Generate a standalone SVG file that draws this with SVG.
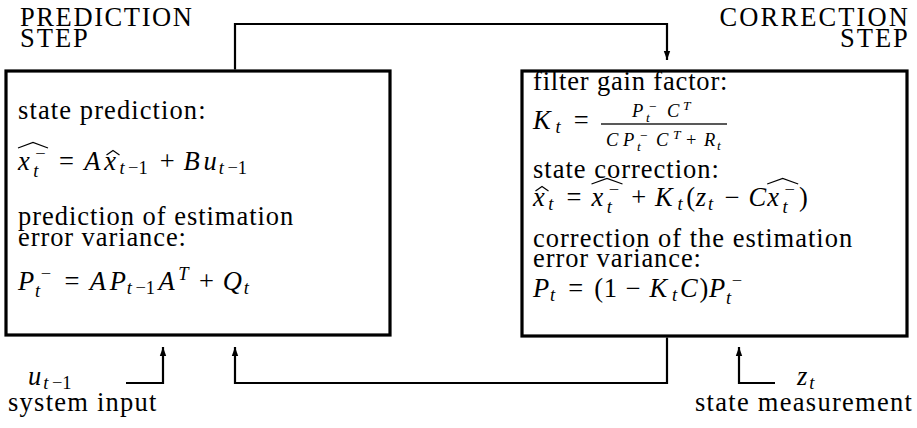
<svg xmlns="http://www.w3.org/2000/svg" width="917" height="428" viewBox="0 0 917 428">
<style>
svg text, svg tspan{font-family:'Liberation Serif','Times New Roman',serif !important}
.t{font-family:'Liberation Serif','Times New Roman',serif !important;font-size:26.5px;fill:#000}
.m{font-family:'Liberation Serif','Times New Roman',serif !important;font-size:26.5px;font-style:italic;fill:#000}
.s{font-size:18.5px;font-style:italic}
.sr{font-size:18.5px;font-style:normal}
.ss{font-size:13.5px;font-style:italic}
.ssr{font-size:13.5px;font-style:normal}
.r{font-style:normal}
.box{fill:none;stroke:#000;stroke-width:3.2}
.con{fill:none;stroke:#000;stroke-width:2.2}
.hat{fill:none;stroke:#000;stroke-width:1.2}
</style>
<defs>
<marker id="arr" markerUnits="userSpaceOnUse" markerWidth="10" markerHeight="8" refX="9" refY="4" orient="auto">
<path d="M0,0.8 L9,4 L0,7.2 z" fill="#000"/>
</marker>
</defs>
<rect width="917" height="428" fill="#fff"/>

<g id="connectors">
<path class="con" d="M235,69.5 V24 H667 V60" marker-end="url(#arr)"/>
<path class="con" d="M667,337.5 V383 H235 V347" marker-end="url(#arr)"/>
<path class="con" d="M126,383 H163 V347" marker-end="url(#arr)"/>
<path class="con" d="M775,383 H739 V347" marker-end="url(#arr)"/>
</g>

<g id="prediction-label">
<text class="t" style="font-family:'Liberation Serif',serif !important" x="20" y="26" letter-spacing="1.6">PREDICTION</text>
<text class="t" style="font-family:'Liberation Serif',serif !important" x="20" y="47" letter-spacing="2">STEP</text>
</g>

<g id="correction-label">
<text class="t" style="font-family:'Liberation Serif',serif !important" x="719.6" y="26" letter-spacing="2.1">CORRECTION</text>
<text class="t" style="font-family:'Liberation Serif',serif !important" x="840" y="47" letter-spacing="2">STEP</text>
</g>

<g id="prediction-step">
<rect class="box" x="6" y="71" width="384" height="264"/>
<text class="t" style="font-family:'Liberation Serif',serif !important" x="18" y="119" letter-spacing="1.1">state prediction:</text>
<text class="m" style="font-family:'Liberation Serif',serif !important"><tspan x="18" y="170">x</tspan><tspan class="sr" x="35.2" y="159.5">&#x2212;</tspan><tspan class="s" x="33.2" y="176.5">t</tspan><tspan class="r" x="59.1" y="170">=</tspan><tspan x="84.3" y="170">A</tspan><tspan x="104.2" y="170">x</tspan><tspan class="s" x="119.4" y="174">t</tspan><tspan class="sr" x="128.1" y="174">&#x2212;1</tspan><tspan class="r" x="159.7" y="170">+</tspan><tspan x="183.4" y="170">B</tspan><tspan x="203.5" y="170">u</tspan><tspan class="s" x="218.7" y="174">t</tspan><tspan class="sr" x="227.4" y="174">&#x2212;1</tspan></text>
<path class="hat" d="M18,148 L33,142.5 L48,148"/>
<path class="hat" d="M106.5,155 L113,150.5 L119.5,155"/>
<text class="t" style="font-family:'Liberation Serif',serif !important" x="18" y="225" letter-spacing="0.96">prediction of estimation</text>
<text class="t" style="font-family:'Liberation Serif',serif !important" x="18" y="246" letter-spacing="0.91">error variance:</text>
<text class="m" style="font-family:'Liberation Serif',serif !important"><tspan x="18" y="290">P</tspan><tspan class="sr" x="40.7" y="279.5">&#x2212;</tspan><tspan class="s" x="35" y="296.5">t</tspan><tspan class="r" x="64.6" y="290">=</tspan><tspan x="89.8" y="290">A</tspan><tspan x="109.7" y="290">P</tspan><tspan class="s" x="126.7" y="294">t</tspan><tspan class="sr" x="135.4" y="294">&#x2212;1</tspan><tspan x="158.4" y="290">A</tspan><tspan class="s" x="178.3" y="279.5">T</tspan><tspan class="r" x="199.1" y="290">+</tspan><tspan x="222.8" y="290">Q</tspan><tspan class="s" x="243.8" y="294">t</tspan></text>
</g>

<g id="correction-step">
<rect class="box" x="522" y="71" width="385" height="265"/>
<text class="t" style="font-family:'Liberation Serif',serif !important" x="533" y="90" letter-spacing="0.83">filter gain factor:</text>
<text class="m" style="font-family:'Liberation Serif',serif !important"><tspan x="533" y="129">K</tspan><tspan class="s" x="555.5" y="133">t</tspan><tspan class="r" x="573.7" y="129">=</tspan></text>
<rect x="601" y="123.35" width="126" height="1.3" fill="#000"/>
<text class="m" style="font-family:'Liberation Serif',serif !important"><tspan class="s" x="632" y="117">P</tspan><tspan class="ssr" x="649" y="111">&#x2212;</tspan><tspan class="ss" x="646" y="121.5">t</tspan><tspan class="s" x="667" y="117">C</tspan><tspan class="ss" x="683" y="110">T</tspan></text>
<text class="m" style="font-family:'Liberation Serif',serif !important"><tspan class="s" x="606" y="146">C</tspan><tspan class="s" x="623" y="146">P</tspan><tspan class="ssr" x="640" y="140">&#x2212;</tspan><tspan class="ss" x="637" y="150.5">t</tspan><tspan class="s" x="656" y="146">C</tspan><tspan class="ss" x="673" y="139">T</tspan><tspan class="sr" x="686" y="146">+</tspan><tspan class="s" x="704" y="146">R</tspan><tspan class="ss" x="717" y="150">t</tspan></text>
<text class="t" style="font-family:'Liberation Serif',serif !important" x="533" y="178" letter-spacing="1.0">state correction:</text>
<text class="m" style="font-family:'Liberation Serif',serif !important"><tspan x="533" y="206">x</tspan><tspan class="s" x="548.2" y="210">t</tspan><tspan class="r" x="566.4" y="206">=</tspan><tspan x="591.6" y="206">x</tspan><tspan class="sr" x="608.8" y="195.5">&#x2212;</tspan><tspan class="s" x="606.8" y="212.5">t</tspan><tspan class="r" x="631.2" y="206">+</tspan><tspan x="654.9" y="206">K</tspan><tspan class="s" x="677.4" y="210">t</tspan><tspan class="r" x="686.2" y="206">(</tspan><tspan x="695.7" y="206">z</tspan><tspan class="s" x="708" y="210">t</tspan><tspan class="r" x="724.7" y="206">&#x2212;</tspan><tspan x="748.4" y="206">C</tspan><tspan x="767.3" y="206">x</tspan><tspan class="sr" x="784.5" y="195.5">&#x2212;</tspan><tspan class="s" x="782.5" y="212.5">t</tspan><tspan class="r" x="799" y="206">)</tspan></text>
<path class="hat" d="M535.5,191 L542,186.5 L548.5,191"/>
<path class="hat" d="M591.5,184 L607,178.5 L622.5,184"/>
<path class="hat" d="M767.2,184 L782.7,178.5 L798.2,184"/>
<text class="t" style="font-family:'Liberation Serif',serif !important" x="533" y="247" letter-spacing="1.0">correction of the estimation</text>
<text class="t" style="font-family:'Liberation Serif',serif !important" x="533" y="267" letter-spacing="0.91">error variance:</text>
<text class="m" style="font-family:'Liberation Serif',serif !important"><tspan x="533" y="297">P</tspan><tspan class="s" x="550" y="301">t</tspan><tspan class="r" x="568.2" y="297">=</tspan><tspan class="r" x="594.2" y="297">(</tspan><tspan class="r" x="603.7" y="297">1</tspan><tspan class="r" x="625.7" y="297">&#x2212;</tspan><tspan x="649.4" y="297">K</tspan><tspan class="s" x="671.9" y="301">t</tspan><tspan x="679.9" y="297">C</tspan><tspan class="r" x="699.6" y="297">)</tspan><tspan x="709.1" y="297">P</tspan><tspan class="sr" x="731.8" y="286.5">&#x2212;</tspan><tspan class="s" x="726.1" y="303.5">t</tspan></text>
</g>

<g id="system-input">
<text class="m" style="font-family:'Liberation Serif',serif !important"><tspan x="28" y="385">u</tspan><tspan class="s" x="43.2" y="389">t</tspan><tspan class="sr" x="51.9" y="389">&#x2212;1</tspan></text>
<text class="t" style="font-family:'Liberation Serif',serif !important" x="8" y="411" letter-spacing="1.25">system input</text>
</g>

<g id="state-measurement">
<text class="m" style="font-family:'Liberation Serif',serif !important"><tspan x="797" y="385">z</tspan><tspan class="s" x="809.3" y="389">t</tspan></text>
<text class="t" style="font-family:'Liberation Serif',serif !important" x="695" y="411" letter-spacing="1.28">state measurement</text>
</g>
</svg>
